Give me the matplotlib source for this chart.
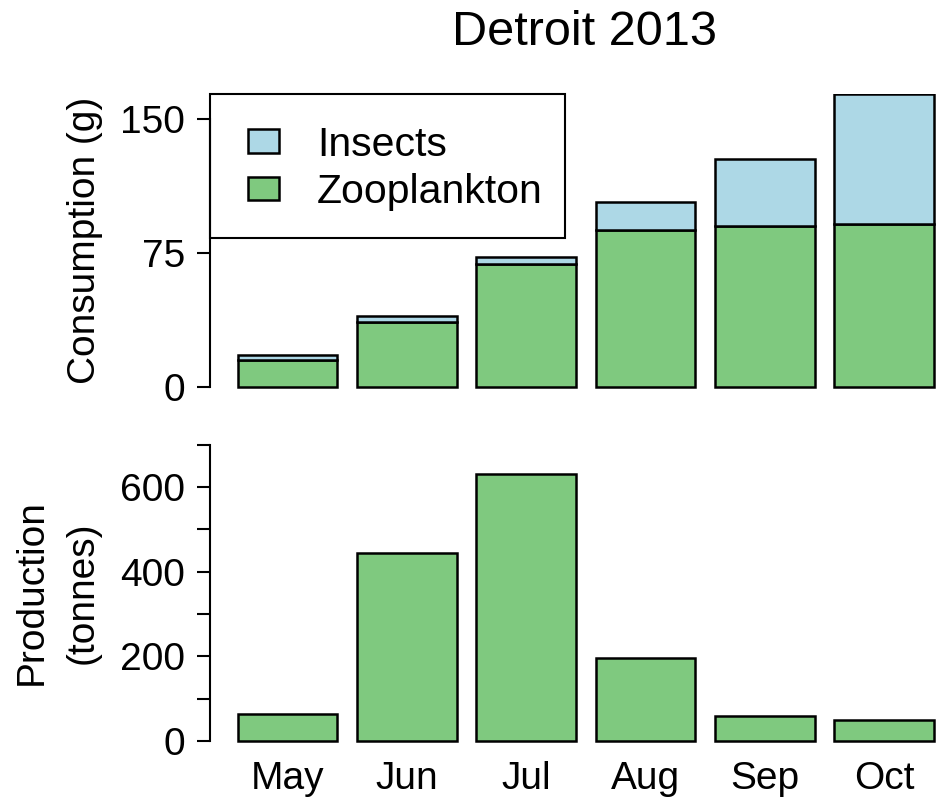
import matplotlib

matplotlib.use("Agg")
import matplotlib.pyplot as plt
from matplotlib.patches import Rectangle

plt.rcParams["font.family"] = ["Liberation Sans", "DejaVu Sans"]

# data
months = ["May", "Jun", "Jul", "Aug", "Sep", "Oct"]
zooplankton = [14.9, 36.5, 68.8, 88.0, 90.3, 91.0]
insects = [3.0, 3.4, 3.8, 15.4, 37.5, 73.0]
production = [64, 445, 630, 196, 60, 50]

GREEN = "#7FC97F"
BLUE = "#ADD8E6"
W, H = 937, 797
FS = 28
LEG_FS = 29.5
LW = 1.8


def px_box(left, top, right, bottom):
    """Pixel box (from the top-left corner) -> figure fraction rect."""
    return [left / W, 1 - bottom / H, (right - left) / W, (bottom - top) / H]


def style_axis(ax, top_tick):
    for side in ("top", "right", "bottom"):
        ax.spines[side].set_visible(False)
    ax.spines["left"].set_bounds(0, top_tick)
    ax.spines["left"].set_linewidth(1.5)
    ax.tick_params(axis="y", length=9.4, width=1.5, pad=8.6, labelsize=FS)
    ax.tick_params(axis="x", length=0, labelsize=FS)


fig = plt.figure(figsize=(W / 100, H / 100), dpi=100)

# R barplot style positions: width 1, space 0.2
xpos = [0.7 + 1.2 * i for i in range(len(months))]
xlim = (-0.08, 7.232)

# top panel: consumption
ax1 = fig.add_axes(px_box(210, 94, 937, 395.9))
zoo_bars = ax1.bar(xpos, zooplankton, width=1, color=GREEN, edgecolor="black", linewidth=LW)
ins_bars = ax1.bar(xpos, insects, width=1, bottom=zooplankton, color=BLUE,
                   edgecolor="black", linewidth=LW)
ax1.set_xlim(*xlim)
ax1.set_ylim(-5, 164)
ax1.set_yticks([0, 75, 150])
ax1.set_xticks([])
style_axis(ax1, 150)

ax1.legend([ins_bars, zoo_bars], ["Insects", "Zooplankton"], loc="upper left",
           bbox_to_anchor=(0.0523, 0.8953), borderaxespad=0, borderpad=0,
           frameon=False, fontsize=LEG_FS, handlelength=0.756, handleheight=0.523,
           handletextpad=0.927, labelspacing=0.23)
ax1.add_patch(Rectangle((0, 0.523), 0.4883, 0.477, transform=ax1.transAxes,
                        fill=False, edgecolor="black", linewidth=1.5, clip_on=False))

# bottom panel: production
ax2 = fig.add_axes(px_box(210, 444.7, 937, 747.3))
ax2.bar(xpos, production, width=1, color=GREEN, edgecolor="black", linewidth=LW)
ax2.set_xlim(*xlim)
ax2.set_ylim(-15, 700)
yt = list(range(0, 701, 100))
ax2.set_yticks(yt)
ax2.set_yticklabels([str(v) if v % 200 == 0 else "" for v in yt])
ax2.set_xticks(xpos)
ax2.set_xticklabels(months)
style_axis(ax2, 700)
ax2.tick_params(axis="x", pad=9.6)

# axis titles and main title
fig.text(95 / W, 1 - 240.5 / H, "Consumption (g)", rotation=90, rotation_mode="anchor",
         ha="center", va="baseline", fontsize=FS)
fig.text(42 / W, 1 - 592.5 / H, "Production", rotation=90, rotation_mode="anchor",
         ha="center", va="baseline", fontsize=FS)
fig.text(93 / W, 1 - 592.5 / H, "(tonnes)", rotation=90, rotation_mode="anchor",
         ha="center", va="baseline", fontsize=FS)
fig.text(585 / W, 1 - 45 / H, "Detroit 2013", ha="center", va="baseline", fontsize=35)

fig.savefig("out.png", dpi=100, facecolor="white")
plt.close(fig)
